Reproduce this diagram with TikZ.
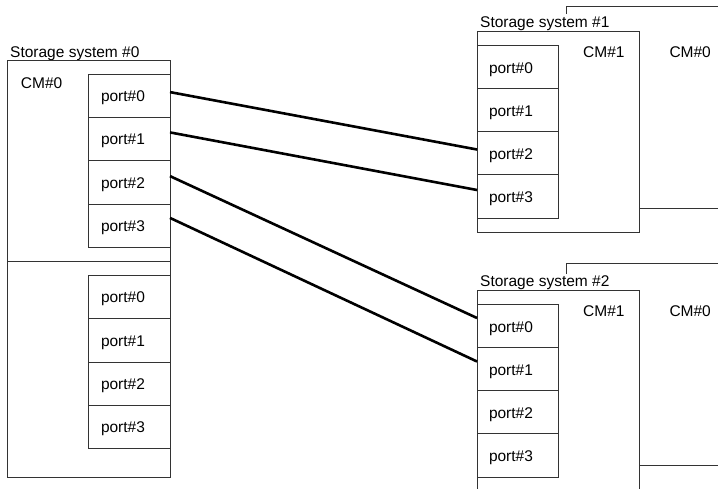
\documentclass[tikz,border=0pt]{standalone}
\usepackage{fontspec}
\setmainfont{Liberation Sans}
\definecolor{boxgray}{HTML}{333333}
\begin{document}
\begin{tikzpicture}[x=1pt,y=-1pt,
  every node/.style={font=\fontsize{15.5}{18}\selectfont},
  box/.style={draw=boxgray,line width=1pt,fill=white},
  port/.style={draw=boxgray,line width=1pt,fill=white,rectangle,
    minimum height=43.25pt,outer sep=0pt,inner ysep=0pt,
    text height=11pt,text depth=0pt,align=left},
  portl/.style={port,inner xsep=13pt,text width=56pt},
  portr/.style={port,inner xsep=12pt,text width=57pt},
  title/.style={fill=white,inner sep=2pt,anchor=base west},
  cmlabel/.style={inner sep=0pt,anchor=base west},
  wire/.style={draw=black,line width=2.6pt}]
\useasboundingbox (0,0) rectangle (718,488);
\clip (0,0) rectangle (718,488);

% Storage system #0: two controller modules stacked
\node[title] (t0) at (8,57) {Storage system \#0};
\draw[box] (7,60.7) rectangle (170,261.5);
\draw[box] (7,261.5) rectangle (170,477.7);
\node[cmlabel] (cm00) at (20.7,88) {CM\#0};
\node[portl] (s0u0) at (129,96.1) {port\#0};
\node[portl] (s0u1) at (129,139.4) {port\#1};
\node[portl] (s0u2) at (129,182.6) {port\#2};
\node[portl] (s0u3) at (129,225.9) {port\#3};
\node[portl] (s0l0) at (129,297.3) {port\#0};
\node[portl] (s0l1) at (129,340.6) {port\#1};
\node[portl] (s0l2) at (129,383.8) {port\#2};
\node[portl] (s0l3) at (129,427.1) {port\#3};

% Storage system #1: CM#0 behind, CM#1 in front
\draw[box] (566,6.7) rectangle (740,208);
\node[title] (t1) at (478,27) {Storage system \#1};
\draw[box] (477,31.7) rectangle (639,232);
\node[cmlabel] (cm11) at (583,57.3) {CM\#1};
\node[cmlabel] (cm10) at (669.3,57.3) {CM\#0};
\node[portr] (s1p0) at (517.5,67.5) {port\#0};
\node[portr] (s1p1) at (517.5,110.5) {port\#1};
\node[portr] (s1p2) at (517.5,153.5) {port\#2};
\node[portr] (s1p3) at (517.5,196.5) {port\#3};

% Storage system #2: CM#0 behind, CM#1 in front
\draw[box] (566,263.3) rectangle (740,465);
\node[title] (t2) at (478,286.7) {Storage system \#2};
\draw[box] (477,290.7) rectangle (639,500);
\node[cmlabel] (cm21) at (583,316) {CM\#1};
\node[cmlabel] (cm20) at (669.3,316) {CM\#0};
\node[portr] (s2p0) at (517.5,326.5) {port\#0};
\node[portr] (s2p1) at (517.5,369.5) {port\#1};
\node[portr] (s2p2) at (517.5,412.5) {port\#2};
\node[portr] (s2p3) at (517.5,455.5) {port\#3};

% Cabling between the systems
\draw[wire] ([yshift=4pt]s0u0.east) -- ([yshift=4pt]s1p2.west);
\draw[wire] ([yshift=7pt]s0u1.east) -- ([yshift=6.5pt]s1p3.west);
\draw[wire] ([yshift=6.5pt]s0u2.east) -- ([yshift=8.5pt]s2p0.west);
\draw[wire] ([yshift=8pt]s0u3.east) -- ([yshift=8pt]s2p1.west);
\end{tikzpicture}
\end{document}
